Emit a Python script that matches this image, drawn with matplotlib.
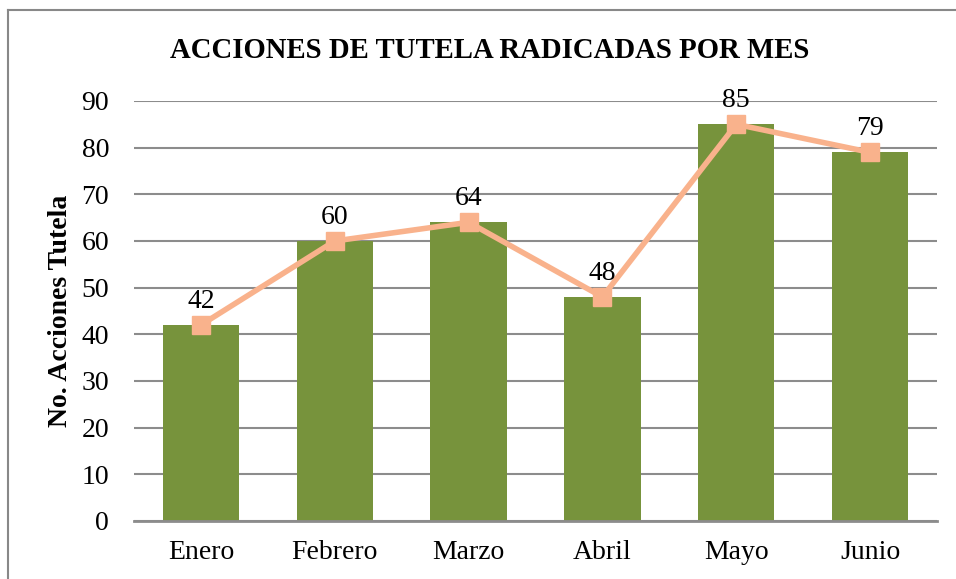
import matplotlib

matplotlib.use("Agg")
import matplotlib.pyplot as plt
from matplotlib.lines import Line2D

months = ["Enero", "Febrero", "Marzo", "Abril", "Mayo", "Junio"]
tutelas = [42, 60, 64, 48, 85, 79]
y_ticks = [0, 10, 20, 30, 40, 50, 60, 70, 80, 90]

BAR_COLOR = "#77933C"
LINE_COLOR = "#F9B28C"
GRID_COLOR = "#8C8C8C"

plt.rcParams["font.family"] = ["Liberation Serif", "DejaVu Serif"]

fig = plt.figure(figsize=(9.56, 5.79), dpi=100)
ax = fig.add_axes([0.1402, 0.1002, 0.8399, 0.7254])

x = range(len(months))
ax.bar(x, tutelas, width=0.57, color=BAR_COLOR, zorder=2)
ax.plot(x, tutelas, color=LINE_COLOR, lw=4, marker="s", markersize=13,
        markerfacecolor=LINE_COLOR, markeredgecolor=LINE_COLOR, zorder=3)
for xi, v in zip(x, tutelas):
    ax.annotate(str(v), (xi, v), xytext=(0, 8), textcoords="offset points",
                ha="center", va="bottom", fontsize=20, zorder=4)

ax.set_xlim(-0.5, len(months) - 0.5)
ax.set_ylim(0, 90)
ax.set_yticks(y_ticks)
ax.set_xticks(list(x))
ax.set_xticklabels(months)
ax.yaxis.grid(True, color=GRID_COLOR, lw=1.5, zorder=0)
ax.set_axisbelow(True)
for side in ["top", "right", "left"]:
    ax.spines[side].set_visible(False)
ax.spines["bottom"].set_color(GRID_COLOR)
ax.spines["bottom"].set_linewidth(2)
ax.tick_params(axis="both", length=0, labelsize=20)
ax.tick_params(axis="x", pad=14)
ax.tick_params(axis="y", pad=18)

ax.set_ylabel("No. Acciones Tutela", fontsize=20, fontweight="bold", labelpad=6)
fig.text(0.512, 0.912, "ACCIONES DE TUTELA RADICADAS POR MES",
         ha="center", va="center", fontsize=20.7, fontweight="bold")

# chart border (left and top edges visible)
fig.add_artist(Line2D([8 / 956, 8 / 956], [0, 1 - 10 / 579], color="#888888", lw=1.5))
fig.add_artist(Line2D([8 / 956, 1], [1 - 10 / 579, 1 - 10 / 579], color="#888888", lw=1.5))

fig.savefig("out.png", dpi=100)
